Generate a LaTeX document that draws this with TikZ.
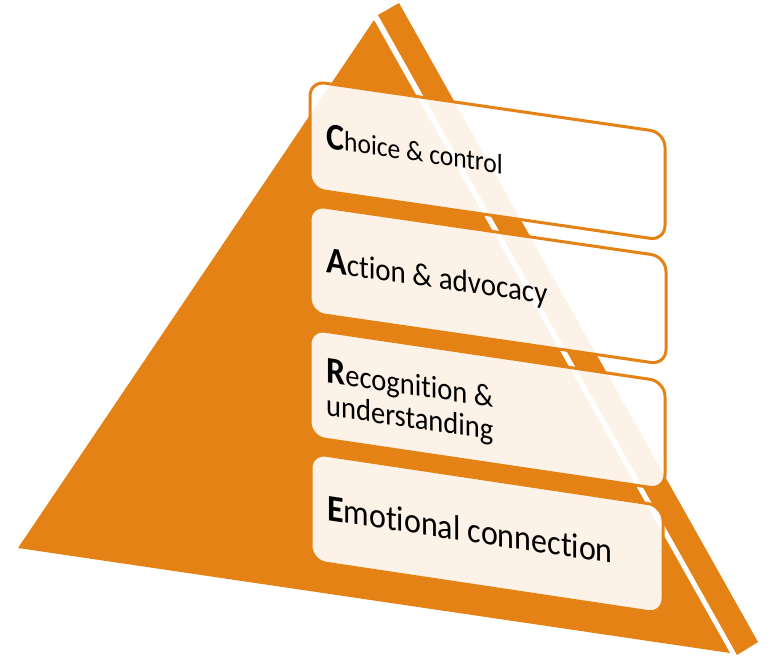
\documentclass[tikz,border=0pt]{standalone}
\usepackage{fontspec}
\setmainfont{Carlito}[Ligatures=NoCommon]
\definecolor{pyr}{RGB}{228,130,21}
\tikzset{
  face/.style={fill=pyr},
  cbox/.style={draw=pyr, line width=3pt, fill=white, fill opacity=0.9, rounded corners=15pt},
  lbl/.style={anchor=base west, inner sep=0pt, text=black, transform shape, yscale=1.1}
}
\newcommand\firstl[1]{{\fontsize{34}{40}\selectfont\bfseries #1}}
\begin{document}
\begin{tikzpicture}[x=1pt,y=-1pt]
\useasboundingbox (0,0) rectangle (773,656);
% pyramid faces
\fill[face] (374,20) -- (18,548) -- (730,653) -- cycle;
\fill[face] (378,15) -- (399,3) -- (758,642) -- (737,655) -- cycle;
% boxes
\begin{scope}[shift={(310,81)}, yslant=-0.145]
  \draw[cbox] (0,0) rectangle (355,108);
  \node[lbl] (c) at (16,65) {\fontsize{25.5}{30}\selectfont\firstl{C}hoice \& control};
\end{scope}
\begin{scope}[shift={(310,205)}, yslant=-0.145]
  \draw[cbox] (0,0) rectangle (356,108);
  \node[lbl] (a) at (16,65) {\fontsize{29}{34}\selectfont\firstl{A}ction \& advocacy};
\end{scope}
\begin{scope}[shift={(310,329)}, yslant=-0.148]
  \draw[cbox] (0,0) rectangle (355,108);
  \node[lbl] (r1) at (16,51) {\fontsize{28.5}{33}\selectfont\firstl{R}ecognition \&};
  \node[lbl] (r2) at (16,84) {\fontsize{28.5}{33}\selectfont understanding};
\end{scope}
\begin{scope}[shift={(311,453)}, yslant=-0.15]
  \draw[cbox] (0,0) rectangle (352,108);
  \node[lbl] (e) at (16,65) {\fontsize{32}{36}\selectfont\firstl{E}motional connection};
\end{scope}
\end{tikzpicture}
\end{document}
